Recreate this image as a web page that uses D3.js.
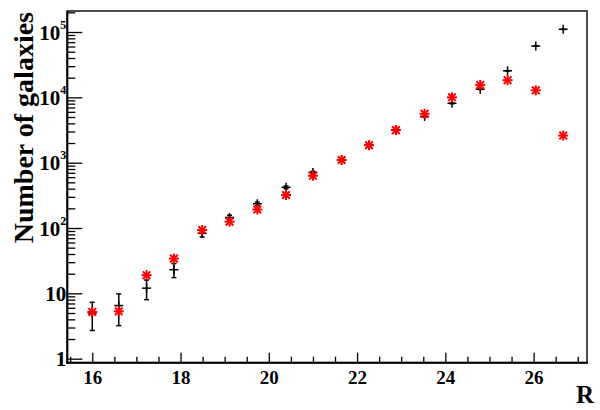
<!DOCTYPE html>
<html><head><meta charset="utf-8">
<script src="https://cdn.jsdelivr.net/npm/d3@7"></script>
<style>
html,body{margin:0;padding:0;background:#fff;}
svg{display:block;}
text{font-family:"Liberation Serif","Times New Roman",serif;font-weight:bold;fill:#000;}
</style></head>
<body>
<svg id="c" width="600" height="410"></svg>
<script>
// ---- data ----
const magR = [16.0, 16.6, 17.23, 17.85, 18.49, 19.11, 19.74, 20.39, 21.0, 21.65, 22.27, 22.88, 23.53, 24.15, 24.79, 25.41, 26.05, 26.67];
const observed = [5, 6.5, 12, 23, 83, 145, 235, 420, 710, 1100, 1850, 3200, 5100, 8100, 13300, 25500, 61000, 110000];
const observedErr = [2.3, 3.3, 4, 5.6, 10, 12, 15, 20, 27, 33, 43, 57, 71, 90, 115, 160, 250, 330];
const model = [5.2, 5.3, 19, 34, 93, 125, 192, 320, 630, 1100, 1850, 3150, 5600, 10000, 15500, 18300, 12800, 2600];
const xMajorTicks = [16, 18, 20, 22, 24, 26];
const yMajorTicks = [1, 10, 100, 1000, 10000, 100000];
const xTitle = "R";
const yTitle = "Number of galaxies";

// ---- layout ----
const L = 67.3, R = 587, T = 11, B = 362.7;
const svg = d3.select("#c");
const x = d3.scaleLinear().domain([15.434, 27.21]).range([L, R]);
const y = d3.scaleLog().domain([0.868, 2.097e5]).range([B, T]);

// minor ticks
const xMinor = d3.range(15.5, 27.01, 0.5).filter(v => !xMajorTicks.includes(v));
const yMinor = [];
for (let d = 0; d < 6; d++) for (let k = 2; k <= 9; k++) { const v = k * Math.pow(10, d); if (v < 2.097e5) yMinor.push(v); }

// x axis
const gx = svg.append("g").attr("transform", `translate(0,${B})`);
gx.call(d3.axisBottom(x).tickValues(xMajorTicks).tickSize(-10).tickPadding(8).tickFormat(d3.format("d")));
const gxm = svg.append("g").attr("transform", `translate(0,${B})`);
gxm.call(d3.axisBottom(x).tickValues(xMinor).tickSize(-6).tickFormat(""));
// y axis
const gy = svg.append("g").attr("transform", `translate(${L},0)`);
gy.call(d3.axisLeft(y).tickValues(yMajorTicks).tickSize(-15).tickPadding(1).tickFormat(""));
const gym = svg.append("g").attr("transform", `translate(${L},0)`);
gym.call(d3.axisLeft(y).tickValues(yMinor).tickSize(-8).tickFormat(""));

[gx, gxm, gy, gym].forEach(g => {
  g.select(".domain").remove();
  g.selectAll(".tick line").attr("stroke", "#000").attr("stroke-width", 1.3);
});
gx.selectAll(".tick text").attr("font-size", 19).attr("font-family", "Liberation Serif").attr("font-weight", "bold").attr("dy", "0.71em");

// y labels with superscripts
const ylab = svg.append("g");
yMajorTicks.forEach(v => {
  const e = Math.round(Math.log10(v));
  const t = ylab.append("text").attr("x", L - 1).attr("y", y(v) + 7.5)
    .attr("text-anchor", "end").attr("font-size", 21);
  if (e <= 1) { t.text(e === 0 ? "1" : "10"); }
  else {
    t.append("tspan").text("10");
    t.append("tspan").attr("font-size", 12).attr("dy", -11).text(String(e));
  }
});

// frame
svg.append("rect").attr("x", L).attr("y", T).attr("width", R - L).attr("height", B - T)
  .attr("fill", "none").attr("stroke", "#222").attr("stroke-width", 1.6);
svg.append("line").attr("x1", L).attr("x2", L).attr("y1", T).attr("y2", B + 1).attr("stroke", "#000").attr("stroke-width", 2);
svg.append("line").attr("x1", L - 1).attr("x2", R + 1).attr("y1", B).attr("y2", B).attr("stroke", "#000").attr("stroke-width", 2);

// titles
svg.append("text").attr("x", 594).attr("y", 403).attr("text-anchor", "end").attr("font-size", 25).text(xTitle);
svg.append("text").attr("transform", `translate(33,12) rotate(-90)`).attr("text-anchor", "end").attr("font-size", 28).text(yTitle);

// observed: error bars + plus markers
const obs = svg.append("g").attr("stroke", "#000").attr("stroke-width", 1.5);
magR.forEach((m, i) => {
  const cx = x(m), cy = y(observed[i]);
  const y1 = y(observed[i] + observedErr[i]), y2 = y(Math.max(observed[i] - observedErr[i], 0.9));
  obs.append("line").attr("x1", cx).attr("x2", cx).attr("y1", y1).attr("y2", y2);
  obs.append("line").attr("x1", cx - 2.5).attr("x2", cx + 2.5).attr("y1", y1).attr("y2", y1);
  obs.append("line").attr("x1", cx - 2.5).attr("x2", cx + 2.5).attr("y1", y2).attr("y2", y2);
  obs.append("line").attr("x1", cx - 4.5).attr("x2", cx + 4.5).attr("y1", cy).attr("y2", cy);
  obs.append("line").attr("x1", cx).attr("x2", cx).attr("y1", cy - 4.5).attr("y2", cy + 4.5);
});

// model: red asterisks
const mod = svg.append("g").attr("stroke", "#ff0000").attr("stroke-width", 2);
const s = 5, d = 3.8;
magR.forEach((m, i) => {
  const cx = x(m), cy = y(model[i]);
  mod.append("line").attr("x1", cx - s).attr("x2", cx + s).attr("y1", cy).attr("y2", cy);
  mod.append("line").attr("x1", cx).attr("x2", cx).attr("y1", cy - s).attr("y2", cy + s);
  mod.append("line").attr("x1", cx - d).attr("x2", cx + d).attr("y1", cy - d).attr("y2", cy + d);
  mod.append("line").attr("x1", cx - d).attr("x2", cx + d).attr("y1", cy + d).attr("y2", cy - d);
});
</script>
</body></html>
